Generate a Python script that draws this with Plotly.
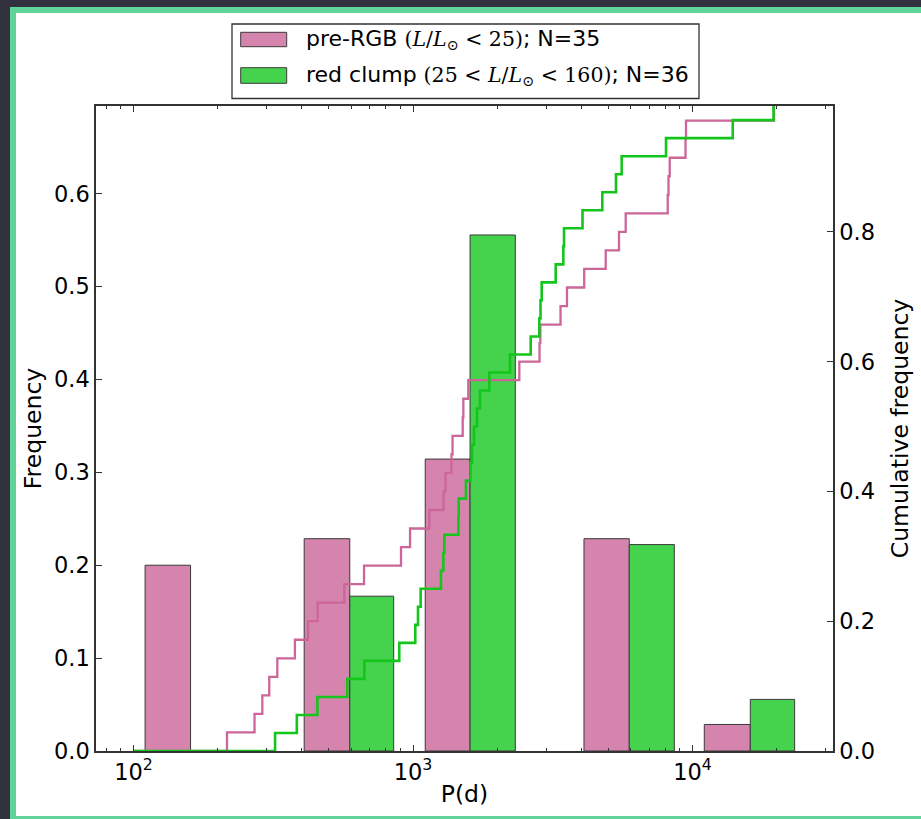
import plotly.graph_objects as go

# ---------------- data ----------------
# histogram bins in period (days): lower edge, split between the two series, upper edge
bin_lo = [110, 408, 1106, 4090, 11020]
bin_mid = [160, 594, 1600, 5940, 16100]
bin_hi = [234, 853, 2323, 8610, 23200]

pre_rgb_counts = [7, 8, 11, 8, 1]      # N = 35
clump_counts = [0, 6, 20, 8, 2]        # N = 36

# sorted periods used for the cumulative distributions
cum_start = 100
pre_rgb_periods = [216, 271, 289, 306, 327, 378, 421, 456, 568, 668,
                   906, 976, 1144, 1286, 1307, 1373, 1385, 1506, 1514, 1577,
                   2401, 2836, 2855, 3372, 3556, 4098, 4892, 5458, 5768, 8154,
                   8207, 8289, 9441, 9478, 19570]
clump_periods = [321, 384, 455, 582, 670, 893, 1019, 1042, 1065, 1259,
                 1284, 1294, 1453, 1457, 1547, 1606, 1626, 1653, 1694, 1737,
                 1875, 2224, 2637, 2831, 2859, 2887, 3240, 3450, 3470, 4041,
                 4757, 5324, 5580, 8040, 13930, 19490]

x_tickvals = [100, 1000, 10000]
x_ticktext = ["10<sup>2</sup>", "10<sup>3</sup>", "10<sup>4</sup>"]

MATH = "<span style=\"font-family:DejaVu Serif;font-size:20.5px\">"
labels = ["pre-RGB " + MATH + "(<i>L</i>/<i>L</i><sub>⊙</sub> &lt; 25)</span>; N=35",
          "red clump " + MATH + "(25 &lt; <i>L</i>/<i>L</i><sub>⊙</sub> &lt; 160)</span>; N=36"]

PINK_BAR, GREEN_BAR = "#d585ad", "#45d24d"
PINK_LINE, GREEN_LINE = "#cc6699", "#14c61c"
EDGE = "#3a3a3a"


def rects(x0s, x1s, counts):
    n = sum(counts)
    xs, ys = [], []
    for a, b, c in zip(x0s, x1s, counts):
        if c <= 0:
            continue
        h = c / n
        xs += [a, a, b, b, a, None]
        ys += [0, h, h, 0, 0, None]
    return xs, ys


def cumul(periods):
    n = len(periods)
    xs = [cum_start] + list(periods)
    ys = [0] + [(i + 1) / n for i in range(n)]
    return xs, ys


fig = go.Figure()
px, py = rects(bin_lo, bin_mid, pre_rgb_counts)
gx, gy = rects(bin_mid, bin_hi, clump_counts)
fig.add_trace(go.Scatter(x=px, y=py, mode="lines", fill="toself", fillcolor=PINK_BAR,
                         line=dict(color=EDGE, width=1), hoverinfo="skip", showlegend=False))
fig.add_trace(go.Scatter(x=gx, y=gy, mode="lines", fill="toself", fillcolor=GREEN_BAR,
                         line=dict(color=EDGE, width=1), hoverinfo="skip", showlegend=False))

cx, cy = cumul(pre_rgb_periods)
fig.add_trace(go.Scatter(x=cx, y=cy, mode="lines", line=dict(color=PINK_LINE, width=2.3, shape="hv"),
                         yaxis="y2", showlegend=False))
cx, cy = cumul(clump_periods)
fig.add_trace(go.Scatter(x=cx, y=cy, mode="lines", line=dict(color=GREEN_LINE, width=2.6, shape="hv"),
                         yaxis="y2", showlegend=False))

minor_vals = [m * 10 ** e for e in range(1, 5) for m in range(2, 10)]

L, R, T, B = 96, 88, 106, 68
W, H = 921, 819
pw, ph = W - L - R, H - T - B


def pxx(x):
    return (x - L) / pw


def pxy(y):
    return (H - B - y) / ph


axis_common = dict(showline=True, linecolor="#333333", linewidth=1.5, showgrid=False,
                   zeroline=False, ticks="inside", ticklen=6, tickwidth=1, tickcolor="#333333")

fig.update_layout(
    width=W, height=H,
    margin=dict(l=L, r=R, t=T, b=B),
    paper_bgcolor="#32323e", plot_bgcolor="white",
    font=dict(family="DejaVu Sans", color="black"),
    showlegend=False,
    xaxis=dict(type="log", range=[1.8658, 4.5027], tickmode="array", tickvals=x_tickvals,
               ticktext=x_ticktext, mirror="ticks",
               tickfont=dict(size=22.5),
               minor=dict(tickmode="array", tickvals=minor_vals, ticks="inside", ticklen=3,
                          tickcolor="#333333", showgrid=False),
               title=dict(text="P(d)", font=dict(size=23.5), standoff=2),
               **axis_common),
    yaxis=dict(range=[0, 0.6944], tick0=0, dtick=0.1, tickformat=".1f",
               tickfont=dict(size=22.5),
               title=dict(text="Frequency", font=dict(size=23.5), standoff=6),
               **axis_common),
    yaxis2=dict(overlaying="y", side="right", range=[0, 0.994], tick0=0, dtick=0.2,
                tickformat=".1f", tickfont=dict(size=22.5),
                title=dict(text="Cumulative frequency", font=dict(size=23.5), standoff=18),
                **axis_common),
)

shapes = [
    # outer frame
    dict(type="rect", xref="paper", yref="paper", layer="below",
         x0=pxx(13), x1=pxx(925), y0=pxy(819), y1=pxy(10),
         line=dict(color="#60d49a", width=6), fillcolor="white"),
    # legend box
    dict(type="rect", xref="paper", yref="paper", layer="above",
         x0=pxx(232), x1=pxx(699), y0=pxy(98.5), y1=pxy(24),
         line=dict(color="#333333", width=1.3), fillcolor="white"),
    dict(type="rect", xref="paper", yref="paper", layer="above",
         x0=pxx(240.7), x1=pxx(286.7), y0=pxy(46.7), y1=pxy(32.3),
         line=dict(color=EDGE, width=1), fillcolor=PINK_BAR),
    dict(type="rect", xref="paper", yref="paper", layer="above",
         x0=pxx(240.7), x1=pxx(286.7), y0=pxy(83.3), y1=pxy(67.7),
         line=dict(color=EDGE, width=1), fillcolor=GREEN_BAR),
]
fig.update_layout(shapes=shapes)

for lab, yc in zip(labels, [39.5, 75.5]):
    fig.add_annotation(text=lab, xref="paper", yref="paper", x=pxx(304), y=pxy(yc),
                       xanchor="left", yanchor="middle", showarrow=False,
                       font=dict(size=22, color="black"))

fig.write_html("out.html")
